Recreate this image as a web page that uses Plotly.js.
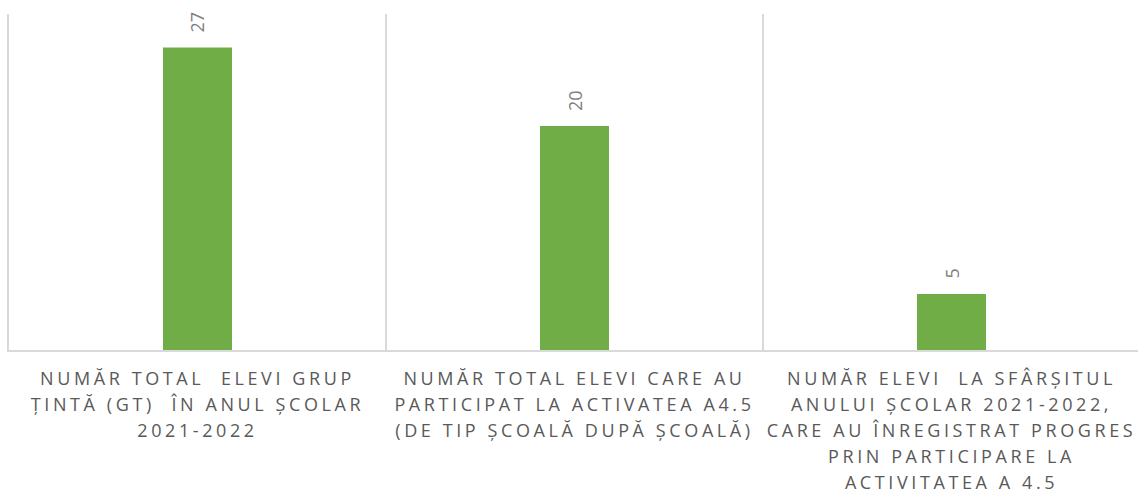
<!DOCTYPE html>
<html>
<head>
<meta charset="utf-8">
<script src="https://cdn.plot.ly/plotly-3.0.1.min.js"></script>
<style>
html,body{margin:0;padding:0;overflow:hidden;background:#fff;}
#chart{width:1141px;height:492px;}
.xtick text{letter-spacing:3.6px;}
</style>
</head>
<body>
<div id="chart"></div>
<script>
const categories = [
  "NUMĂR TOTAL  ELEVI GRUP<br>ȚINTĂ (GT)  ÎN ANUL ȘCOLAR<br>2021-2022",
  "NUMĂR TOTAL ELEVI CARE AU<br>PARTICIPAT LA ACTIVATEA A4.5<br>(DE TIP ȘCOALĂ DUPĂ ȘCOALĂ)",
  "NUMĂR ELEVI  LA SFÂRȘITUL<br>ANULUI ȘCOLAR 2021-2022,<br>CARE AU ÎNREGISTRAT PROGRES<br>PRIN PARTICIPARE LA<br>ACTIVITATEA A 4.5"
];
const values = [27, 20, 5];

const LABEL_SIZE = 18;
const LINE_PX = 26;

const trace = {
  type: 'bar',
  x: categories,
  y: values,
  marker: {color: '#70AD47'},
  hoverinfo: 'skip'
};

const annotations = categories.map((c, i) => ({
  x: c, y: values[i], xref: 'x', yref: 'y',
  text: String(values[i]),
  textangle: -90,
  showarrow: false,
  yanchor: 'bottom',
  yshift: 13,
  font: {family: 'Open Sans, sans-serif', size: 18, color: '#7F7F7F'}
}));

const layout = {
  width: 1141, height: 492,
  margin: {l: 9, r: 1, t: 14, b: 142},
  paper_bgcolor: '#fff', plot_bgcolor: '#fff',
  bargap: 0.817,
  showlegend: false,
  xaxis: {
    type: 'category',
    range: [-0.5, 2.5],
    tickson: 'boundaries',
    showgrid: true, gridcolor: '#D9D9D9', gridwidth: 1.5,
    showline: true, linecolor: '#D9D9D9', linewidth: 2,
    ticks: '', ticklen: 0,
    tickfont: {family: 'Open Sans, sans-serif', size: LABEL_SIZE, color: '#595959'},
    ticklabelstandoff: 11,
    automargin: false
  },
  yaxis: {
    range: [0, 30],
    showgrid: false, zeroline: false,
    showline: true, linecolor: '#D9D9D9', linewidth: 2,
    showticklabels: false, ticks: ''
  },
  annotations: annotations
};

Plotly.newPlot('chart', [trace], layout, {displayModeBar: false, staticPlot: true}).then(gd => {
  // widen the line spacing of the multi-line category labels
  gd.querySelectorAll('.xtick text tspan.line').forEach(ts => {
    const dy = ts.getAttribute('dy');
    if (dy && dy.endsWith('em')) {
      const n = parseFloat(dy);
      if (n) ts.setAttribute('dy', (n / 1.3 * LINE_PX) + 'px');
    }
  });
});
</script>
</body>
</html>
